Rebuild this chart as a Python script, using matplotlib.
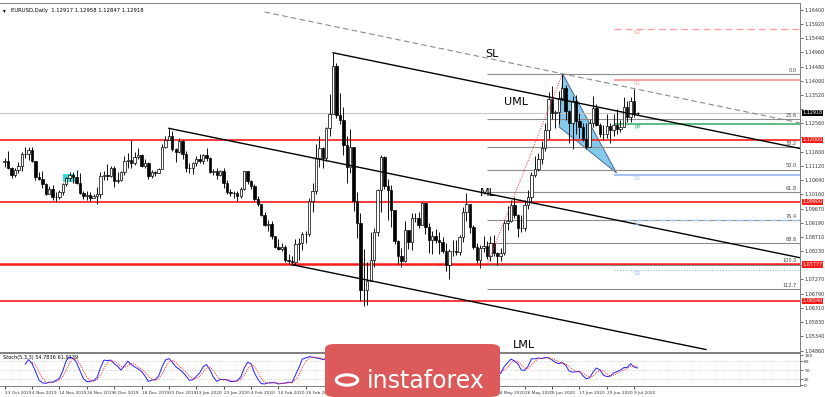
import matplotlib
matplotlib.use("Agg")
import matplotlib.pyplot as plt
import matplotlib.transforms as mtransforms
from matplotlib.patches import Polygon, Rectangle, FancyBboxPatch, Circle
import numpy as np

# EURUSD daily, 23 Oct 2019 .. 10 Jul 2020 (one entry per bar)
first_open = 1.1125
highs = [1.1137, 1.1163, 1.1109, 1.1106, 1.1124, 1.1160, 1.1175, 1.1177, 1.1176, 1.1130,
         1.1092, 1.1094, 1.1055, 1.1042, 1.1048, 1.1024, 1.1029, 1.1055, 1.1075, 1.1090,
         1.1091, 1.1097, 1.1089, 1.1026, 1.1027, 1.1023, 1.1018, 1.1039, 1.1090, 1.1095,
         1.1117, 1.1112, 1.1111, 1.1090, 1.1095, 1.1145, 1.1154, 1.1200, 1.1160, 1.1174,
         1.1153, 1.1134, 1.1124, 1.1099, 1.1093, 1.1103, 1.1186, 1.1213, 1.1239, 1.1229,
         1.1174, 1.1206, 1.1199, 1.1163, 1.1121, 1.1124, 1.1144, 1.1152, 1.1151, 1.1173,
         1.1141, 1.1100, 1.1104, 1.1099, 1.1103, 1.1063, 1.1035, 1.1026, 1.1027, 1.1041,
         1.1095, 1.1095, 1.1065, 1.1051, 1.1011, 1.0982, 1.0955, 1.0929, 1.0925, 1.0875,
         1.0863, 1.0851, 1.0843, 1.0813, 1.0807, 1.0863, 1.0867, 1.0888, 1.0890, 1.1003,
         1.1053, 1.1185, 1.1213, 1.1175, 1.1245, 1.1355, 1.1495, 1.1462, 1.1360, 1.1310,
         1.1214, 1.1237, 1.1154, 1.1023, 1.0952, 1.0831, 1.0785, 1.0888, 1.0902, 1.1035,
         1.1147, 1.1145, 1.1069, 1.1047, 1.0962, 1.0860, 1.0832, 1.0926, 1.0894, 1.0952,
         1.0953, 1.0956, 1.0990, 1.0974, 1.0918, 1.0890, 1.0897, 1.0888, 1.0870, 1.0850,
         1.0829, 1.0861, 1.0860, 1.0877, 1.0973, 1.1019, 1.0978, 1.0910, 1.0851, 1.0844,
         1.0875, 1.0856, 1.0874, 1.0877, 1.0819, 1.0835, 1.0927, 1.0975, 1.0995, 1.1008,
         1.0950, 1.0945, 1.0995, 1.1031, 1.1091, 1.1146, 1.1154, 1.1196, 1.1258, 1.1361,
         1.1384, 1.1302, 1.1367, 1.1422, 1.1386, 1.1302, 1.1348, 1.1353, 1.1290, 1.1257,
         1.1257, 1.1272, 1.1349, 1.1321, 1.1258, 1.1249, 1.1287, 1.1256, 1.1286, 1.1303,
         1.1267, 1.1346, 1.1330, 1.1345, 1.1371, 1.12958]
lows = [1.1107, 1.1102, 1.1072, 1.1075, 1.1088, 1.1093, 1.1137, 1.1131, 1.1125, 1.1064,
        1.1063, 1.1036, 1.1013, 1.1015, 1.0997, 1.0989, 1.0998, 1.1014, 1.1044, 1.1062,
        1.1055, 1.1052, 1.1015, 1.0999, 1.0997, 1.0992, 1.1003, 1.0981, 1.1004, 1.1063,
        1.1065, 1.1073, 1.1040, 1.1055, 1.1060, 1.1080, 1.1106, 1.1105, 1.1116, 1.1135,
        1.1108, 1.1106, 1.1067, 1.1070, 1.1079, 1.1087, 1.1100, 1.1171, 1.1199, 1.1163,
        1.1125, 1.1154, 1.1135, 1.1092, 1.1088, 1.1085, 1.1112, 1.1120, 1.1119, 1.1127,
        1.1086, 1.1080, 1.1067, 1.1078, 1.1036, 1.1018, 1.1010, 1.1002, 1.0992, 1.1004,
        1.1030, 1.1052, 1.1035, 1.0994, 1.0976, 1.0941, 1.0908, 1.0891, 1.0865, 1.0835,
        1.0827, 1.0822, 1.0786, 1.0779, 1.0777, 1.0777, 1.0794, 1.0828, 1.0851, 1.0875,
        1.0957, 1.1017, 1.1108, 1.1103, 1.1127, 1.1212, 1.1290, 1.1273, 1.1254, 1.1147,
        1.1053, 1.1087, 1.0960, 1.0868, 1.0653, 1.0636, 1.0640, 1.0725, 1.0769, 1.0873,
        1.0954, 1.1032, 1.0928, 1.0905, 1.0848, 1.0780, 1.0768, 1.0785, 1.0831, 1.0828,
        1.0920, 1.0900, 1.0910, 1.0880, 1.0815, 1.0813, 1.0850, 1.0812, 1.0815, 1.0756,
        1.0727, 1.0805, 1.0810, 1.0810, 1.0855, 1.0925, 1.0884, 1.0830, 1.0782, 1.0767,
        1.0820, 1.0795, 1.0790, 1.0807, 1.0775, 1.0788, 1.0811, 1.0893, 1.0922, 1.0935,
        1.0871, 1.0887, 1.0891, 1.0965, 1.0990, 1.1073, 1.1095, 1.1118, 1.1162, 1.1204,
        1.1271, 1.1241, 1.1252, 1.1334, 1.1267, 1.1188, 1.1168, 1.1221, 1.1207, 1.1197,
        1.1168, 1.1177, 1.1245, 1.1247, 1.1211, 1.1200, 1.1207, 1.1189, 1.1212, 1.1221,
        1.1226, 1.1244, 1.1261, 1.1261, 1.1279, 1.12847]
closes = [1.1129, 1.1105, 1.1080, 1.1098, 1.1111, 1.1152, 1.1151, 1.1166, 1.1128, 1.1073,
          1.1067, 1.1050, 1.1018, 1.1034, 1.1007, 1.1006, 1.1022, 1.1052, 1.1071, 1.1080,
          1.1075, 1.1055, 1.1020, 1.1009, 1.1013, 1.1004, 1.1009, 1.1017, 1.1078, 1.1081,
          1.1077, 1.1105, 1.1059, 1.1065, 1.1092, 1.1130, 1.1133, 1.1120, 1.1143, 1.1150,
          1.1112, 1.1122, 1.1078, 1.1090, 1.1087, 1.1102, 1.1176, 1.1200, 1.1212, 1.1170,
          1.1160, 1.1196, 1.1152, 1.1106, 1.1105, 1.1120, 1.1134, 1.1127, 1.1150, 1.1137,
          1.1091, 1.1094, 1.1082, 1.1095, 1.1053, 1.1023, 1.1020, 1.1020, 1.1009, 1.1032,
          1.1093, 1.1061, 1.1042, 1.1001, 1.0982, 1.0945, 1.0913, 1.0915, 1.0873, 1.0838,
          1.0830, 1.0837, 1.0792, 1.0791, 1.0785, 1.0846, 1.0852, 1.0880, 1.0882, 1.0994,
          1.1027, 1.1138, 1.1174, 1.1137, 1.1240, 1.1286, 1.1449, 1.1284, 1.1268, 1.1182,
          1.1107, 1.1176, 1.0993, 1.0917, 1.0691, 1.0692, 1.0722, 1.0792, 1.0887, 1.1030,
          1.1141, 1.1045, 1.1031, 1.0962, 1.0857, 1.0808, 1.0790, 1.0893, 1.0855, 1.0935,
          1.0935, 1.0913, 1.0985, 1.0904, 1.0861, 1.0875, 1.0862, 1.0855, 1.0823, 1.0777,
          1.0822, 1.0824, 1.0820, 1.0870, 1.0955, 1.0982, 1.0906, 1.0838, 1.0793, 1.0832,
          1.0841, 1.0805, 1.0850, 1.0815, 1.0805, 1.0818, 1.0918, 1.0925, 1.0978, 1.0947,
          1.0902, 1.0901, 1.0979, 1.1006, 1.1080, 1.1101, 1.1136, 1.1172, 1.1234, 1.1339,
          1.1290, 1.1295, 1.1341, 1.1375, 1.1298, 1.1257, 1.1330, 1.1263, 1.1245, 1.1204,
          1.1177, 1.1257, 1.1307, 1.1250, 1.1221, 1.1219, 1.1247, 1.1233, 1.1250, 1.1237,
          1.1243, 1.1310, 1.1276, 1.1333, 1.12917, 1.12918]

# date labels; the ones that sit under the watermark are left blank
tick_bars = [0, 8, 16, 24, 32, 40, 48, 56, 64, 72, 80, 88, 96, 104, 112, 120,
             128, 136, 144, 152, 160, 168, 176, 184]
tick_dates = ["23 Oct 2019", "4 Nov 2019", "14 Nov 2019", "26 Nov 2019", "6 Dec 2019",
              "18 Dec 2019", "31 Dec 2019", "13 Jan 2020", "23 Jan 2020", "4 Feb 2020",
              "14 Feb 2020", "26 Feb 2020", "", "", "", "", "", "",
              "14 May 2020", "26 May 2020", "5 Jun 2020", "17 Jun 2020", "29 Jun 2020",
              "9 Jul 2020"]

price_ticks = [1.16400, 1.15920, 1.15440, 1.14960, 1.14480, 1.14000, 1.13520, 1.13040,
               1.12560, 1.12080, 1.11600, 1.11120, 1.10640, 1.10160, 1.09670, 1.09190,
               1.08710, 1.08230, 1.07750, 1.07270, 1.06790, 1.06310, 1.05830, 1.05340,
               1.04860]

red_levels = [1.12000, 1.09900, 1.07777, 1.06540]
last_price = 1.12918

# pitchfork / trend lines: (bar, price) start and end
sl_line = [(76, 1.16332), (232.5, 1.12571)]
uml_line = [(96, 1.1495), (232.5, 1.11707)]
ml_line = [(48, 1.1239), (232.5, 1.08006)]
lml_line = [(84, 1.0777), (205, 1.04895)]

wedge = [(163.2, 1.1422), (178.9, 1.10876), (162.1, 1.12435)]

fib_low = (141, 1.0777)
fib_high = (163, 1.1422)
fib_ratios = [0.0, 23.6, 38.2, 50.0, 61.8, 76.4, 88.6, 100.0, 112.7]

pivot_start = 178
pivot_names = ["R2", "R1", "PP", "S1", "S2", "S3"]
pivot_values = [1.15756, 1.14028, 1.12537, 1.10809, 1.09284, 1.07589]

n = len(closes)
opens = [first_open] + closes[:-1]
x = np.arange(n)

fig = plt.figure(figsize=(8.25, 3.97), dpi=100)
W, H = 825.0, 397.0
ax = fig.add_axes([0, 1 - 352 / H, 800 / W, 349 / H])
axs = fig.add_axes([0, 1 - 386 / H, 800 / W, 33 / H])

xlim = (-1.37, 232.5)
ax.set_xlim(*xlim)
axs.set_xlim(*xlim)
ax.set_ylim(1.04811, 1.16637)
axs.set_ylim(-3.3, 106.7)

for a in (ax, axs):
    for s in a.spines.values():
        s.set_color("#7f7f7f")
        s.set_linewidth(0.7)
    a.spines["left"].set_visible(False)
    a.yaxis.tick_right()
    a.tick_params(axis="y", direction="out", length=2, width=0.5, pad=1,
                  labelsize=3.5, colors="#333333")

# candles
body_w = 0.7
for i in range(n):
    o, h, l, c = opens[i], highs[i], lows[i], closes[i]
    ax.vlines(i, min(l, o, c), max(h, o, c), color="black", lw=0.65, zorder=3)
    bull = c >= o
    bh = abs(c - o)
    if bh < 0.00005:
        ax.hlines(c, i - body_w / 2, i + body_w / 2, color="black", lw=0.7, zorder=3)
    else:
        ax.add_patch(Rectangle((i - body_w / 2, min(o, c)), body_w, bh,
                               facecolor="white" if bull else "black",
                               edgecolor="black", lw=0.5, zorder=3))

# horizontal support / resistance
for lv in red_levels:
    lw = 1.8 if lv == 1.07777 else 1.2
    ax.axhline(lv, color="#ff1a1a", lw=lw, zorder=2)
ax.axhline(last_price, color="#c8c8c8", lw=0.8, zorder=2)

# fibonacci retracement
fib_rng = fib_high[1] - fib_low[1]
for r in fib_ratios:
    lv = fib_high[1] - fib_rng * r / 100.0
    ax.hlines(lv, fib_low[0], xlim[1], color="#8c8c8c", lw=0.8, zorder=2)
    ax.text(231.5, lv + 0.0004, "%.1f" % r, fontsize=3.6, color="#444444",
            ha="right", va="bottom", zorder=5)
ax.plot([fib_low[0], fib_high[0]], [fib_low[1], fib_high[1]], color="#ff3030",
        lw=0.7, ls=(0, (1, 1.5)), zorder=4)

# pivots
piv_style = {"R2": ("#f5a3a3", (0, (5, 3)), 1.0), "R1": ("#f5a3a3", "-", 1.5),
             "PP": ("#3cb371", "-", 1.2), "S1": ("#a3c4f0", "-", 1.5),
             "S2": ("#a3c4f0", (0, (5, 3)), 1.0), "S3": ("#8fb4ef", (0, (1, 1.5)), 0.8)}
for name, lv in zip(pivot_names, pivot_values):
    col, ls, lw = piv_style[name]
    ax.hlines(lv, pivot_start, xlim[1], color=col, ls=ls, lw=lw, zorder=2)
    ax.text(185, lv - 0.0004, name, fontsize=4, color=col, ha="center", va="top",
            zorder=5)

# blue falling wedge
ax.add_patch(Polygon(wedge, closed=True, facecolor="#74c3ea", edgecolor="#2a4f7a",
                     lw=0.6, alpha=0.9, zorder=1.5))

# small cyan box on the left
ax.add_patch(Rectangle((17.0, 1.10571), 3.6, 0.00273, facecolor="#19d3d3",
                       edgecolor="none", alpha=0.85, zorder=2.5))

# trend lines
for (p0, p1) in (uml_line, ml_line, lml_line):
    ax.plot([p0[0], p1[0]], [p0[1], p1[1]], color="black", lw=1.0, zorder=4)
ax.plot([sl_line[0][0], sl_line[1][0]], [sl_line[0][1], sl_line[1][1]],
        color="#8a8a8a", lw=0.8, ls=(0, (5, 3)), zorder=4)

ax.text(140.5, 1.14909, "SL", fontsize=8, va="center", zorder=5)
ax.text(146.0, 1.13282, "UML", fontsize=8, va="center", zorder=5)
ax.text(138.8, 1.10199, "ML", fontsize=8, va="center", zorder=5)
ax.text(148.5, 1.05048, "LML", fontsize=8, va="center", zorder=5)

# price axis: labels hidden where a coloured price box sits on top
boxed = red_levels + [last_price]
ax.set_yticks(price_ticks)
ax.set_yticklabels(["" if min(abs(p - b) for b in boxed) < 0.0016 else "%.5f" % p
                    for p in price_ticks])
ax.set_xticks([])
trans = mtransforms.blended_transform_factory(ax.transAxes, ax.transData)
for lv in red_levels:
    ax.text(1.003, lv, "%.5f" % lv, transform=trans, fontsize=3.5, color="white",
            va="center", ha="left", clip_on=False, zorder=6,
            bbox=dict(boxstyle="square,pad=0.15", fc="#ff1a1a", ec="none"))
ax.text(1.003, last_price, "%.5f" % last_price, transform=trans, fontsize=3.5,
        color="white", va="center", ha="left", clip_on=False, zorder=6,
        bbox=dict(boxstyle="square,pad=0.15", fc="black", ec="none"))

ax.text(0.004, 0.985, "\u25be", transform=ax.transAxes, fontsize=4, va="top")
ax.text(0.014, 0.985, "EURUSD,Daily  1.12917 1.12958 1.12847 1.12918",
        transform=ax.transAxes, fontsize=3.8, va="top")

# stochastic 5,3,3
hi = np.array(highs)
lo = np.array(lows)
cl = np.array(closes)
num = np.full(n, np.nan)
den = np.full(n, np.nan)
for i in range(4, n):
    hh = hi[i - 4:i + 1].max()
    ll = lo[i - 4:i + 1].min()
    num[i] = cl[i] - ll
    den[i] = hh - ll
k_line = np.full(n, np.nan)
for i in range(6, n):
    k_line[i] = num[i - 2:i + 1].sum() / den[i - 2:i + 1].sum() * 100
d_line = np.full(n, np.nan)
for i in range(8, n):
    d_line[i] = k_line[i - 2:i + 1].mean()

for lv in (20, 50, 80):
    axs.axhline(lv, color="#b0b0b0", lw=0.5, ls=(0, (1, 2)))
axs.plot(x, k_line, color="#2020ff", lw=0.7)
axs.plot(x, d_line, color="#ff2020", lw=0.7, ls=(0, (1, 1.2)))
axs.set_yticks([0, 20, 50, 80, 100])
axs.set_yticklabels(["0", "20", "50", "80", "100"])
axs.tick_params(axis="y", labelsize=3.2)
axs.text(0.004, 0.93, "Stoch(5,3,3) 54.7836 61.9139", transform=axs.transAxes,
         fontsize=3.6, va="top")
axs.set_xticks(tick_bars)
axs.set_xticklabels(tick_dates, fontsize=3.1, ha="left", color="#333333")
axs.tick_params(axis="x", length=2, width=0.5, pad=1.5)

# watermark
logo = FancyBboxPatch((325 / W, 0.0), 175 / W, 53 / H, transform=fig.transFigure,
                      boxstyle="round,pad=0,rounding_size=0.012",
                      facecolor="#dd5a5a", edgecolor="none", zorder=10)
fig.patches.append(logo)
fig.patches.append(Circle((347 / W, 1 - 380 / H), 0.013, transform=fig.transFigure,
                          facecolor="none", edgecolor="white", lw=2.2, zorder=11))
fig.text(367 / W, 1 - 381 / H, "instaforex", fontsize=17, color="white",
         va="center", ha="left", zorder=12)

fig.savefig("out.png", dpi=100)
